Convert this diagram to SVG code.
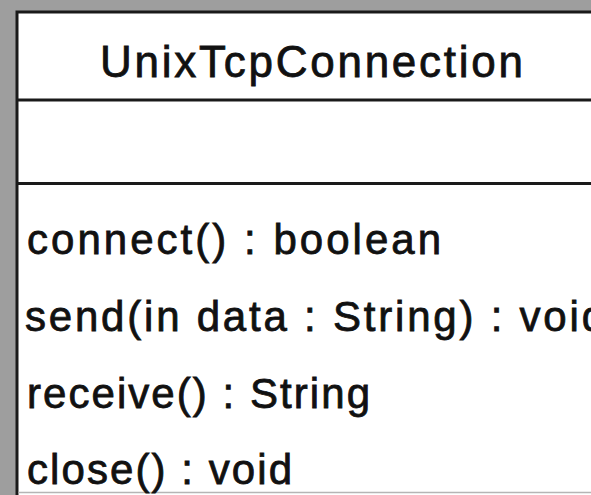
<svg xmlns="http://www.w3.org/2000/svg" width="591" height="495" viewBox="0 0 591 495">
  <style>
    .bg { fill: #9e9e9e; }
    .box { fill: #ffffff; stroke: #1a1a1a; stroke-width: 3; }
    .div { stroke: #1a1a1a; stroke-width: 3; }
    .title { font-family: "Liberation Sans", Arial, sans-serif; font-size: 44px; fill: #111; stroke: #111; stroke-width: 0.8; }
    .op { font-family: "Liberation Sans", Arial, sans-serif; font-size: 42px; fill: #111; stroke: #111; stroke-width: 0.8; }
  </style>
  <rect class="bg" x="0" y="0" width="591" height="495"/>
  <g id="UnixTcpConnection">
    <rect class="box" x="17" y="12" width="600" height="520"/>
    <line class="div" x1="17" y1="100" x2="591" y2="100"/>
    <line class="div" x1="17" y1="183.5" x2="591" y2="183.5"/>
    <line x1="18.5" y1="492.5" x2="591" y2="492.5" stroke="#b5b5b5" stroke-width="1.5"/>
    <text class="title" x="100" y="77" textLength="423" lengthAdjust="spacing">UnixTcpConnection</text>
    <text class="op" x="27" y="254" textLength="414" lengthAdjust="spacing">connect() : boolean</text>
    <text class="op" x="25" y="331" textLength="580" lengthAdjust="spacing">send(in data : String) : void</text>
    <text class="op" x="27" y="408" textLength="343" lengthAdjust="spacing">receive() : String</text>
    <text class="op" x="27" y="484" textLength="265" lengthAdjust="spacing">close() : void</text>
  </g>
  <g id="connectors"></g>
</svg>
